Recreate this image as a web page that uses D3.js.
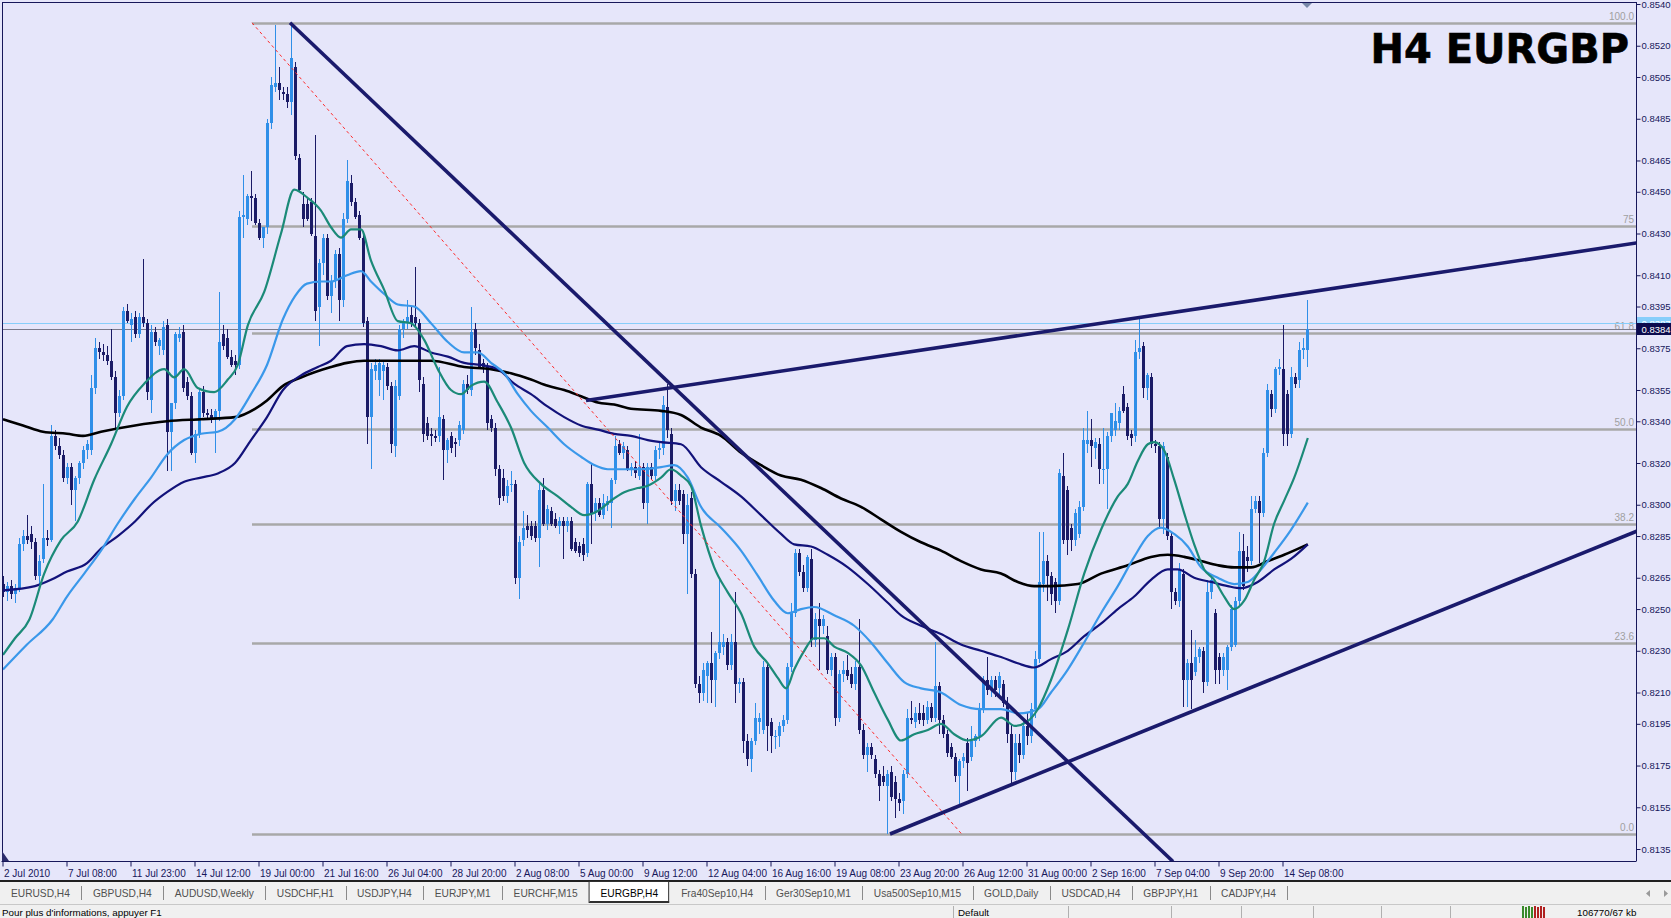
<!DOCTYPE html>
<html><head><meta charset="utf-8"><title>H4 EURGBP</title>
<script src="https://cdn.jsdelivr.net/npm/d3@7/dist/d3.min.js"></script>
<style>
html,body{margin:0;padding:0;background:#f0f0f0;overflow:hidden}
svg{display:block}
</style></head><body>
<svg id="chart" width="1671" height="918" style="font-family:'Liberation Sans',Arial,sans-serif"></svg>
<script>
// ---------------- DATA ----------------
const symbolTitle = "H4 EURGBP";
// x tick labels every 16 H4 bars
const tickBars = [0,16,32,48,64,80,96,112,128,144,160,176,192,208,224,240,256,272,288,304,320];
const tickLabels = ["2 Jul 2010","7 Jul 08:00","11 Jul 23:00","14 Jul 12:00","19 Jul 00:00","21 Jul 16:00","26 Jul 04:00","28 Jul 20:00","2 Aug 08:00","5 Aug 00:00","9 Aug 12:00","12 Aug 04:00","16 Aug 16:00","19 Aug 08:00","23 Aug 20:00","26 Aug 12:00","31 Aug 00:00","2 Sep 16:00","7 Sep 04:00","9 Sep 20:00","14 Sep 08:00"];
const priceTicks = [0.8540,0.8520,0.8505,0.8485,0.8465,0.8450,0.8430,0.8410,0.8395,0.8375,0.8355,0.8340,0.8320,0.8300,0.8285,0.8265,0.8250,0.8230,0.8210,0.8195,0.8175,0.8155,0.8135];
const bidPrice = 0.8384, askPrice = 0.8387;

// OHLC in pips (x 1e-4)
const openP = [8262,8258,8261,8257,8260,8281,8285,8286,8282,8266,
8274,8284,8283,8333,8328,8324,8313,8318,8307,8313,
8320,8326,8326,8356,8375,8373,8372,8369,8361,8344,
8352,8393,8386,8390,8382,8390,8387,8350,8383,8376,
8374,8386,8335,8349,8380,8383,8359,8352,8325,8334,
8354,8344,8343,8341,8345,8382,8380,8371,8369,8367,
8438,8437,8448,8447,8435,8428,8433,8483,8500,8502,
8498,8497,8493,8510,8466,8444,8444,8445,8429,8395,
8416,8428,8400,8407,8420,8398,8437,8454,8445,8439,
8428,8388,8342,8364,8360,8364,8366,8357,8328,8352,
8384,8387,8391,8390,8387,8358,8339,8334,8333,8333,
8341,8326,8333,8330,8331,8336,8358,8355,8384,8374,
8368,8366,8341,8337,8317,8313,8304,8310,8310,8265,
8283,8290,8290,8290,8284,8307,8291,8297,8293,8290,
8292,8290,8292,8282,8280,8281,8277,8310,8296,8301,
8295,8300,8301,8312,8329,8325,8326,8317,8318,8314,
8318,8301,8318,8314,8326,8327,8347,8334,8302,8307,
8305,8286,8303,8267,8214,8210,8218,8224,8216,8229,
8232,8234,8223,8234,8214,8215,8187,8178,8187,8196,
8192,8222,8196,8189,8189,8194,8197,8222,8248,8277,
8268,8260,8274,8235,8245,8242,8237,8221,8227,8198,
8219,8221,8219,8214,8222,8192,8180,8184,8178,8171,
8170,8165,8172,8167,8159,8158,8171,8198,8196,8200,
8200,8197,8203,8198,8213,8197,8190,8184,8179,8170,
8177,8186,8179,8187,8189,8202,8216,8211,8216,8212,
8214,8205,8190,8172,8186,8180,8194,8189,8202,8226,
8262,8273,8266,8263,8254,8314,8307,8289,8283,8286,
8299,8329,8331,8327,8329,8317,8317,8333,8336,8339,
8353,8347,8334,8333,8373,8376,8356,8361,8329,8328,
8293,8323,8285,8258,8254,8267,8216,8224,8220,8227,
8230,8215,8258,8248,8227,8221,8221,8232,8233,8254,
8278,8275,8273,8298,8302,8296,8325,8353,8346,8365,
8365,8353,8334,8361,8360,8374,8374];
const highP = [8266,8263,8264,8262,8284,8288,8295,8290,8284,8276,
8310,8288,8338,8336,8332,8326,8320,8320,8314,8321,
8328,8331,8362,8380,8378,8377,8376,8384,8364,8355,
8395,8396,8392,8393,8392,8418,8389,8386,8385,8380,
8388,8389,8349,8383,8385,8386,8361,8354,8336,8356,
8357,8346,8346,8346,8402,8386,8384,8374,8372,8441,
8458,8449,8460,8449,8437,8433,8485,8505,8530,8510,
8500,8500,8530,8512,8468,8450,8447,8447,8477,8418,
8430,8430,8410,8422,8423,8440,8465,8458,8447,8441,
8430,8390,8368,8370,8370,8369,8368,8359,8360,8386,
8389,8398,8395,8414,8389,8361,8342,8337,8336,8366,
8343,8332,8335,8332,8340,8360,8362,8395,8387,8377,
8370,8368,8343,8339,8319,8317,8312,8316,8312,8285,
8297,8295,8292,8292,8310,8313,8300,8299,8296,8294,
8294,8294,8294,8284,8282,8284,8311,8320,8303,8303,
8305,8304,8313,8333,8331,8330,8328,8320,8321,8334,
8320,8320,8320,8328,8330,8352,8358,8337,8310,8310,
8307,8305,8306,8269,8218,8224,8225,8239,8230,8264,
8238,8236,8238,8258,8217,8217,8190,8188,8205,8200,
8225,8224,8198,8192,8196,8199,8224,8253,8279,8279,
8271,8276,8279,8248,8253,8247,8242,8229,8229,8221,
8225,8228,8222,8225,8245,8195,8186,8186,8180,8173,
8175,8173,8175,8170,8162,8173,8202,8206,8203,8205,
8204,8206,8205,8234,8215,8199,8192,8186,8181,8178,
8181,8188,8194,8190,8205,8218,8227,8218,8218,8220,
8216,8208,8195,8190,8190,8198,8200,8205,8230,8287,
8287,8276,8268,8265,8317,8325,8309,8291,8298,8302,
8337,8345,8341,8332,8332,8337,8335,8344,8349,8347,
8357,8349,8336,8379,8389,8378,8363,8363,8331,8330,
8330,8325,8287,8260,8272,8269,8226,8240,8235,8232,
8232,8264,8267,8250,8229,8229,8233,8252,8256,8287,
8286,8280,8304,8304,8304,8327,8358,8355,8366,8370,
8386,8355,8366,8363,8378,8380,8398];
const lowP = [8256,8254,8255,8253,8258,8278,8281,8279,8264,8262,
8272,8280,8282,8326,8322,8311,8310,8300,8292,8310,
8317,8322,8324,8353,8370,8369,8367,8360,8337,8342,
8350,8387,8378,8380,8380,8385,8350,8344,8376,8372,
8372,8316,8316,8346,8378,8354,8350,8324,8320,8332,
8342,8341,8339,8325,8340,8374,8370,8366,8362,8365,
8428,8434,8436,8434,8427,8423,8430,8480,8498,8494,
8494,8490,8487,8465,8450,8433,8436,8429,8388,8376,
8410,8398,8392,8404,8388,8395,8435,8443,8437,8427,
8385,8329,8317,8360,8352,8350,8355,8325,8323,8350,
8380,8384,8385,8385,8354,8330,8331,8328,8330,8330,
8312,8320,8325,8323,8328,8334,8353,8352,8372,8365,
8363,8336,8335,8314,8300,8302,8301,8306,8262,8255,
8280,8284,8283,8282,8270,8290,8288,8290,8289,8286,
8274,8287,8278,8277,8275,8273,8275,8281,8292,8294,
8293,8297,8289,8310,8324,8322,8316,8314,8313,8312,
8298,8291,8312,8312,8322,8324,8332,8300,8297,8300,
8281,8257,8265,8212,8205,8206,8205,8205,8203,8226,
8228,8221,8221,8205,8210,8181,8175,8172,8185,8190,
8190,8182,8181,8183,8184,8191,8195,8220,8246,8266,
8258,8258,8232,8232,8221,8238,8219,8218,8194,8196,
8215,8216,8212,8211,8190,8178,8172,8178,8169,8158,
8165,8142,8158,8150,8153,8152,8169,8195,8193,8195,
8194,8195,8196,8196,8190,8188,8179,8178,8167,8155,
8174,8163,8177,8184,8187,8200,8209,8208,8208,8208,
8203,8186,8165,8168,8176,8178,8185,8186,8198,8224,
8258,8254,8252,8248,8252,8281,8276,8278,8280,8284,
8297,8325,8318,8322,8310,8310,8298,8330,8333,8336,
8344,8331,8328,8330,8370,8351,8350,8327,8325,8289,
8286,8283,8250,8252,8251,8203,8203,8202,8218,8224,
8210,8213,8255,8214,8214,8218,8211,8230,8232,8252,
8259,8268,8271,8296,8272,8294,8323,8342,8344,8362,
8328,8328,8332,8356,8356,8370,8366];
const closeP = [8258,8261,8257,8260,8281,8285,8283,8282,8266,8273,
8284,8283,8333,8328,8324,8313,8318,8307,8313,8320,
8326,8329,8356,8375,8373,8372,8369,8361,8344,8352,
8393,8388,8389,8382,8390,8387,8354,8383,8378,8379,
8385,8335,8349,8382,8382,8356,8352,8325,8334,8354,
8344,8343,8341,8345,8378,8376,8371,8367,8367,8438,
8439,8448,8447,8435,8428,8433,8483,8501,8502,8499,
8497,8493,8514,8467,8451,8437,8437,8430,8393,8416,
8428,8400,8407,8420,8398,8437,8455,8445,8438,8428,
8387,8342,8365,8367,8368,8367,8357,8329,8357,8384,
8387,8390,8387,8387,8360,8334,8333,8333,8332,8342,
8326,8331,8327,8329,8338,8358,8355,8383,8375,8366,
8366,8339,8337,8317,8303,8304,8309,8310,8265,8282,
8289,8288,8285,8284,8307,8291,8298,8291,8290,8292,
8290,8292,8279,8278,8277,8276,8310,8296,8301,8295,
8301,8302,8312,8328,8325,8328,8317,8318,8315,8318,
8301,8318,8314,8326,8327,8348,8336,8302,8307,8302,
8286,8300,8267,8214,8210,8221,8224,8216,8229,8234,
8234,8223,8234,8214,8215,8187,8178,8187,8198,8198,
8222,8194,8189,8189,8194,8197,8222,8248,8277,8268,
8260,8275,8235,8245,8242,8245,8221,8227,8198,8219,
8221,8218,8214,8222,8192,8180,8184,8180,8171,8165,
8167,8171,8160,8159,8157,8171,8198,8197,8200,8197,
8197,8203,8198,8213,8197,8190,8181,8179,8170,8177,
8179,8176,8187,8189,8202,8216,8211,8216,8211,8218,
8205,8190,8172,8186,8180,8194,8189,8202,8226,8263,
8273,8266,8257,8254,8315,8283,8283,8283,8296,8299,
8331,8331,8328,8330,8317,8317,8333,8344,8340,8345,
8345,8333,8332,8373,8375,8356,8362,8329,8328,8293,
8328,8285,8258,8254,8269,8216,8224,8216,8227,8231,
8215,8258,8264,8221,8221,8227,8232,8250,8254,8278,
8261,8273,8298,8302,8296,8325,8355,8346,8365,8366,
8334,8334,8361,8358,8374,8375,8384];

// Moving averages: [bar, pips]
const maFast = [[0,8228],[3,8236],[6.6,8245],[10.3,8267],[14.5,8283],[18.7,8292],[22.8,8312],[27,8329],[31,8347],[35.3,8358],[40.3,8365],[42.8,8361],[45.3,8365],[48.7,8356],[52.8,8354],[56.2,8360],[58.7,8367],[61.2,8386],[65.3,8402],[69.5,8430],[72.8,8451],[76.2,8447],[79.5,8441],[82,8433],[84.5,8428],[87,8432],[89.5,8432],[92,8417],[95.3,8403],[98.7,8388],[102,8387],[105.3,8379],[108.7,8365],[112,8355],[114.5,8353],[117,8357],[120.3,8359],[123.7,8349],[127,8337],[130.3,8320],[134.5,8310],[138.7,8304],[142,8299],[145.3,8295],[148.7,8297],[152,8302],[155.3,8306],[158.7,8308],[161,8309],[164.5,8313],[167,8317],[169.5,8314],[172,8309],[174.5,8290],[177.8,8270],[181.2,8258],[184.5,8248],[187.8,8232],[191.2,8224],[193.7,8217],[195.8,8212],[197.8,8221],[200.3,8230],[202.8,8236],[205.3,8236],[207.8,8232],[211.2,8229],[214.5,8223],[217.8,8210],[221.2,8197],[224.5,8187],[227.8,8190],[231.2,8192],[234.5,8195],[237.8,8190],[241.2,8187],[244.5,8189],[249.5,8198],[253,8194],[256,8196],[258.7,8202],[262,8216],[266.2,8240],[270.3,8267],[274.5,8288],[278.7,8304],[281.2,8310],[283.7,8321],[286.2,8329],[287.8,8330],[290.3,8326],[292.8,8312],[295.3,8296],[297.8,8281],[300.3,8269],[302.8,8264],[305.3,8256],[307.8,8250],[310.3,8254],[312.8,8264],[315.3,8273],[317.8,8291],[320.3,8302],[322.8,8313],[326.2,8332]];
const maMid = [[0,8221],[6,8233],[12.4,8245],[16,8256],[20.3,8267],[24.5,8278],[28.7,8291],[33,8303],[37,8313],[41,8324],[45.3,8331],[49.5,8334],[53.7,8335],[58,8341],[62,8353],[66,8367],[70,8389],[73,8400],[76,8406],[79.5,8407],[82,8407],[86,8410],[89.5,8412],[92,8407],[95.3,8401],[98.7,8396],[102.8,8395],[107,8387],[111.2,8378],[115.3,8373],[118.7,8373],[122,8368],[125.3,8363],[128.7,8353],[132,8345],[136.2,8337],[140.3,8329],[144.5,8323],[147.8,8319],[151.2,8317],[155.3,8317],[159.5,8317],[164.5,8318],[167.8,8319],[171.2,8313],[174.5,8299],[179.5,8289],[184.5,8278],[188.7,8266],[192.8,8254],[196.2,8248],[199.5,8250],[202.8,8251],[207.8,8247],[212.8,8242],[217,8234],[221.2,8224],[225.3,8215],[229.5,8212],[234.5,8210],[239.5,8204],[244.5,8202],[249.5,8202],[254,8200],[258.7,8202],[262,8210],[266.2,8221],[270.3,8234],[274.5,8248],[278.7,8261],[282.8,8275],[286.2,8285],[289.5,8289],[292.8,8286],[296.2,8280],[299.5,8270],[303.7,8265],[307.8,8262],[311.2,8263],[314.5,8269],[317.8,8277],[322,8288],[326.2,8301]];
const maSlow = [[0,8259],[8,8261],[12,8264],[16,8268],[21,8272],[24.5,8279],[28.7,8285],[33,8292],[37,8300],[41,8306],[45.3,8311],[49.5,8313],[53.7,8315],[58,8320],[62,8331],[66,8342],[70,8355],[74.5,8362],[78.7,8366],[82,8369],[86,8376],[90.3,8377],[94.5,8376],[98.7,8374],[102.8,8376],[107,8373],[111.2,8371],[115.3,8368],[119.5,8367],[123.7,8365],[127.8,8358],[132,8353],[136.2,8347],[140.3,8342],[144.5,8338],[148.7,8336],[152.8,8334],[157,8333],[161.2,8331],[164.5,8330],[169.5,8329],[174.5,8318],[179.5,8311],[184.5,8304],[189.5,8295],[194.5,8286],[197.8,8281],[202,8280],[206.2,8276],[211.2,8270],[216.2,8262],[221.2,8253],[224.5,8247],[229.5,8242],[234.5,8238],[239.5,8233],[244.5,8230],[249.5,8227],[253.7,8224],[257.8,8222],[262,8226],[266.2,8230],[270.3,8237],[274.5,8243],[278.7,8250],[282.8,8256],[287,8264],[291.2,8269],[293.7,8269],[297.8,8265],[302,8263],[306.2,8261],[309.5,8260],[313.7,8263],[317.8,8269],[322,8274],[326.2,8281]];
const ma200 = [[0,8341],[5,8338],[10,8335],[16,8334],[20,8333],[24.5,8335],[33,8338],[41,8340],[49.5,8341],[58,8342],[63,8346],[66,8350],[70,8357],[74.5,8361],[82,8366],[86,8368],[90.3,8369],[98.7,8369],[107,8369],[115.3,8366],[122,8365],[127,8363],[132,8360],[136.2,8357],[140.3,8355],[144.5,8352],[148.7,8349],[152.8,8348],[157,8346],[164.5,8345],[169.5,8343],[174.5,8337],[179.5,8333],[184.5,8325],[189.5,8319],[194.5,8314],[199.5,8312],[204.5,8308],[209.5,8303],[214.5,8299],[219.5,8293],[224.5,8287],[229.5,8282],[234.5,8278],[239.5,8273],[244.5,8269],[249.5,8267],[253.7,8263],[257.8,8261],[262,8261],[268.7,8262],[274.5,8267],[281.2,8271],[287,8275],[291.2,8276],[295.3,8275],[299.5,8273],[303.7,8271],[307.8,8270],[312,8270],[316.2,8273],[320.3,8276],[326.2,8281]];

// Fibonacci retracement (anchors: bar, pips)
const fibHigh = [62.25, 8531], fibLow = [239.75, 8142];
const fibLevels = [0, 23.6, 38.2, 50.0, 61.8, 75, 100];
const fibNames = ["0.0","23.6","38.2","50.0","61.8","75","100.0"];
// Trend lines: [bar, pips] -> [bar, pips]
const trendLines = [
  [[71.75, 8531],[292.5, 8129]],
  [[145.75, 8350],[408.5, 8425.5]],
  [[221.75, 8142.2],[408.5, 8287.4]]
];
// Window chrome
const tabs = ["EURUSD,H4","GBPUSD,H4","AUDUSD,Weekly","USDCHF,H1","USDJPY,H4","EURJPY,M1","EURCHF,M15","EURGBP,H4","Fra40Sep10,H4","Ger30Sep10,M1","Usa500Sep10,M15","GOLD,Daily","USDCAD,H4","GBPJPY,H1","CADJPY,H4"];
const activeTab = "EURGBP,H4";
const statusHelp = "Pour plus d'informations, appuyer F1";
const statusProfile = "Default";
const statusTraffic = "106770/67 kb";

// ---------------- DRAW ----------------
const W = 1671, H = 918;
const plot = {left: 2, right: 1636, top: 2, bottom: 861};
const pip = v => v / 10000;
const svg = d3.select("#chart");
const SANS = "'Liberation Sans', Arial, sans-serif";

const C_BG = "#e6e6fa", C_AXIS = "#17175a", C_BULL = "#2f8fe8", C_BEAR = "#1b1b66";
const C_FAST = "#1b8a78", C_MID = "#3a98ea", C_SLOW = "#12127a", C_200 = "#000000";
const C_TREND = "#1a1a6c", C_FIB = "#a8a8a8";

const x = d3.scaleLinear().domain([0, 326]).range([3, 1307]);
const y = d3.scaleLinear().domain([0.8135, 0.8540]).range([849, 4]);

// window background
svg.append("rect").attr("x", 0).attr("y", 0).attr("width", W).attr("height", 881).attr("fill", C_BG);
svg.append("rect").attr("x", 0).attr("y", 881).attr("width", W).attr("height", H - 881).attr("fill", "#f0f0f0");

svg.append("defs").append("clipPath").attr("id", "plotclip")
  .append("rect").attr("x", plot.left).attr("y", plot.top)
  .attr("width", plot.right - plot.left).attr("height", plot.bottom - plot.top);

const g = svg.append("g").attr("clip-path", "url(#plotclip)");

// Fibonacci levels
const fibPrice = lv => pip(fibLow[1] + (fibHigh[1] - fibLow[1]) * lv / 100);
g.append("g").selectAll("line").data(fibLevels).join("line")
  .attr("x1", x(fibHigh[0])).attr("x2", plot.right)
  .attr("y1", d => Math.round(y(fibPrice(d))) + 0.5).attr("y2", d => Math.round(y(fibPrice(d))) + 0.5)
  .attr("stroke", C_FIB).attr("stroke-width", 2.5);
g.append("g").selectAll("text").data(fibLevels).join("text")
  .attr("x", plot.right - 2).attr("y", d => y(fibPrice(d)) - 3)
  .attr("text-anchor", "end").attr("font-size", 10).attr("fill", "#a0a0a0")
  .text((d, i) => fibNames[i]);

// bid / ask lines
g.append("line").attr("x1", plot.left).attr("x2", plot.right)
  .attr("y1", Math.round(y(askPrice)) + 0.5).attr("y2", Math.round(y(askPrice)) + 0.5)
  .attr("stroke", "#87cefa").attr("stroke-width", 1);
g.append("line").attr("x1", plot.left).attr("x2", plot.right)
  .attr("y1", Math.round(y(bidPrice)) + 0.5).attr("y2", Math.round(y(bidPrice)) + 0.5)
  .attr("stroke", "#7a7a8a").attr("stroke-width", 1);

// candles
const bars = d3.range(openP.length).map(i => ({i, o: pip(openP[i]), h: pip(highP[i]), l: pip(lowP[i]), c: pip(closeP[i])}));
const cg = g.append("g").attr("shape-rendering", "crispEdges");
cg.selectAll("line").data(bars).join("line")
  .attr("x1", d => Math.round(x(d.i)) + 0.5).attr("x2", d => Math.round(x(d.i)) + 0.5)
  .attr("y1", d => y(d.h)).attr("y2", d => y(d.l))
  .attr("stroke", d => d.c >= d.o ? C_BULL : C_BEAR).attr("stroke-width", 1);
cg.selectAll("rect").data(bars).join("rect")
  .attr("x", d => Math.round(x(d.i)) - 1).attr("width", 3)
  .attr("y", d => Math.min(y(d.o), y(d.c)))
  .attr("height", d => Math.max(1, Math.abs(y(d.o) - y(d.c))))
  .attr("fill", d => d.c >= d.o ? C_BULL : C_BEAR);

// moving averages
const maLine = d3.line().x(d => x(d[0])).y(d => y(pip(d[1]))).curve(d3.curveMonotoneX);
[[ma200, C_200, 2.6], [maSlow, C_SLOW, 2.2], [maMid, C_MID, 2.2], [maFast, C_FAST, 2.2]].forEach(([data, col, w]) => {
  g.append("path").attr("d", maLine(data)).attr("fill", "none").attr("stroke", col).attr("stroke-width", w)
    .attr("stroke-linejoin", "round");
});

// fib diagonal (red dotted)
g.append("line").attr("x1", x(fibHigh[0])).attr("y1", y(pip(fibHigh[1])))
  .attr("x2", x(fibLow[0])).attr("y2", y(pip(fibLow[1])))
  .attr("stroke", "#ff2a2a").attr("stroke-width", 1).attr("stroke-dasharray", "3,3");

// trend lines
g.append("g").selectAll("line").data(trendLines).join("line")
  .attr("x1", d => x(d[0][0])).attr("y1", d => y(pip(d[0][1])))
  .attr("x2", d => x(d[1][0])).attr("y2", d => y(pip(d[1][1])))
  .attr("stroke", C_TREND).attr("stroke-width", 3.6).attr("stroke-linecap", "butt");

// frame
svg.append("line").attr("x1", plot.left + 0.5).attr("x2", plot.left + 0.5).attr("y1", plot.top).attr("y2", plot.bottom)
  .attr("stroke", C_AXIS);
svg.append("line").attr("x1", plot.left).attr("x2", plot.right).attr("y1", plot.top + 0.5).attr("y2", plot.top + 0.5)
  .attr("stroke", C_AXIS);

// right price axis
const yAxis = d3.axisRight(y).tickValues(priceTicks).tickFormat(d3.format(".4f")).tickSize(4).tickSizeOuter(0);
const ya = svg.append("g").attr("transform", `translate(${plot.right + 0.5},0)`).call(yAxis);
ya.attr("font-family", null).attr("font-size", null);
ya.select(".domain").attr("stroke", C_AXIS).attr("d", `M0,${plot.top}V${plot.bottom}`);
ya.selectAll(".tick line").attr("stroke", C_AXIS);
ya.selectAll(".tick text").style("font-size", "9.5px").style("font-family", SANS).attr("fill", C_AXIS).attr("x", 5);

// ask/bid boxes
[[askPrice, "#87cefa", "#ffffff"], [bidPrice, "#0c0c4e", "#ffffff"]].forEach(([p, bg, fg]) => {
  const yy = Math.round(y(p));
  svg.append("rect").attr("x", plot.right + 1).attr("y", yy - 6).attr("width", W - plot.right - 1).attr("height", 12).attr("fill", bg);
  svg.append("text").attr("x", plot.right + 5.5).attr("y", yy + 4).style("font-size", "9.5px").attr("fill", fg).text(d3.format(".4f")(p));
});

// bottom time axis
const xAxis = d3.axisBottom(x).tickValues(tickBars).tickFormat((d, i) => tickLabels[i]).tickSize(5).tickSizeOuter(0);
const xa = svg.append("g").attr("transform", `translate(-0.5,${plot.bottom + 0.5})`).call(xAxis);
xa.select(".domain").attr("stroke", C_AXIS).attr("d", `M${plot.left},0H${plot.right + 1}`);
xa.selectAll(".tick line").attr("stroke", C_AXIS);
xa.selectAll(".tick text").style("font-size", "10px").style("font-family", SANS).attr("fill", C_AXIS).attr("text-anchor", "start")
  .attr("x", 1).attr("y", 8);

// corner marker & shift marker
svg.append("path").attr("d", `M${plot.left},${plot.bottom - 10}L${plot.left},${plot.bottom}L${plot.left + 7},${plot.bottom}Z`).attr("fill", "#2a2a6a");
svg.append("path").attr("d", `M${x(326) - 5},${plot.top + 1}L${x(326) + 5},${plot.top + 1}L${x(326)},${plot.top + 6}Z`).attr("fill", "#7888a8");

// title
svg.append("text").attr("x", 1629).attr("y", 63).attr("text-anchor", "end")
  .style("font-family", "'DejaVu Sans', sans-serif").style("font-weight", "bold").style("font-size", "40px")
  .attr("fill", "#000").attr("stroke", "#000").attr("stroke-width", 0.6).text(symbolTitle);

// tab bar
svg.append("rect").attr("x", 0).attr("y", 880).attr("width", W).attr("height", 2).attr("fill", "#202020");
const tg = svg.append("g");
const tbg = tg.append("g");
let tx = 11;
tabs.forEach((name, i) => {
  const isActive = name === activeTab;
  const t = tg.append("text").attr("x", tx).attr("y", 897).style("font-size", "10.2px")
    .attr("fill", isActive ? "#000" : "#505050").text(name);
  const w = t.node().getComputedTextLength();
  if (isActive) {
    tbg.append("rect").attr("x", tx - 11.5).attr("y", 881.5).attr("width", w + 22).attr("height", 21)
      .attr("fill", "#ffffff").attr("stroke", "#303030").attr("stroke-width", 1);
    tbg.append("line").attr("x1", tx - 11).attr("x2", tx + w + 11).attr("y1", 902).attr("y2", 902).attr("stroke", "#303030").attr("stroke-width", 2);
  }
  const next = tabs[i + 1];
  if (!isActive && next !== activeTab) {
    tg.append("line").attr("x1", Math.round(tx + w + 11.5) + 0.5).attr("x2", Math.round(tx + w + 11.5) + 0.5)
      .attr("y1", 886).attr("y2", 900).attr("stroke", "#8a8a8a");
  }
  tx += w + 23;
});
// scroll arrows
svg.append("path").attr("d", "M1650,890L1646,893.5L1650,897Z").attr("fill", "#9a9a9a");
svg.append("path").attr("d", "M1664,890L1668,893.5L1664,897Z").attr("fill", "#9a9a9a");

// status bar
svg.append("line").attr("x1", 0).attr("x2", W).attr("y1", 904.5).attr("y2", 904.5).attr("stroke", "#c8c8c8");
svg.append("text").attr("x", 2).attr("y", 916).style("font-size", "9.8px").attr("fill", "#000").text(statusHelp);
svg.append("text").attr("x", 958).attr("y", 916).style("font-size", "9.8px").attr("fill", "#000").text(statusProfile);
svg.append("text").attr("x", 1577).attr("y", 916).style("font-size", "9.8px").attr("fill", "#000").text(statusTraffic);
[953, 1068, 1171, 1241, 1313, 1381, 1450].forEach(sx => {
  svg.append("line").attr("x1", sx + 0.5).attr("x2", sx + 0.5).attr("y1", 906).attr("y2", 918).attr("stroke", "#b0b0b0");
});
// connection indicator
const ig = svg.append("g").attr("shape-rendering", "crispEdges");
d3.range(8).forEach(k => {
  ig.append("rect").attr("x", 1522 + k * 3).attr("y", 906 + (k % 2)).attr("width", 2).attr("height", 12 - (k % 2))
    .attr("fill", k < 4 ? "#3a8a2a" : "#b02020");
});
</script>
</body></html>
